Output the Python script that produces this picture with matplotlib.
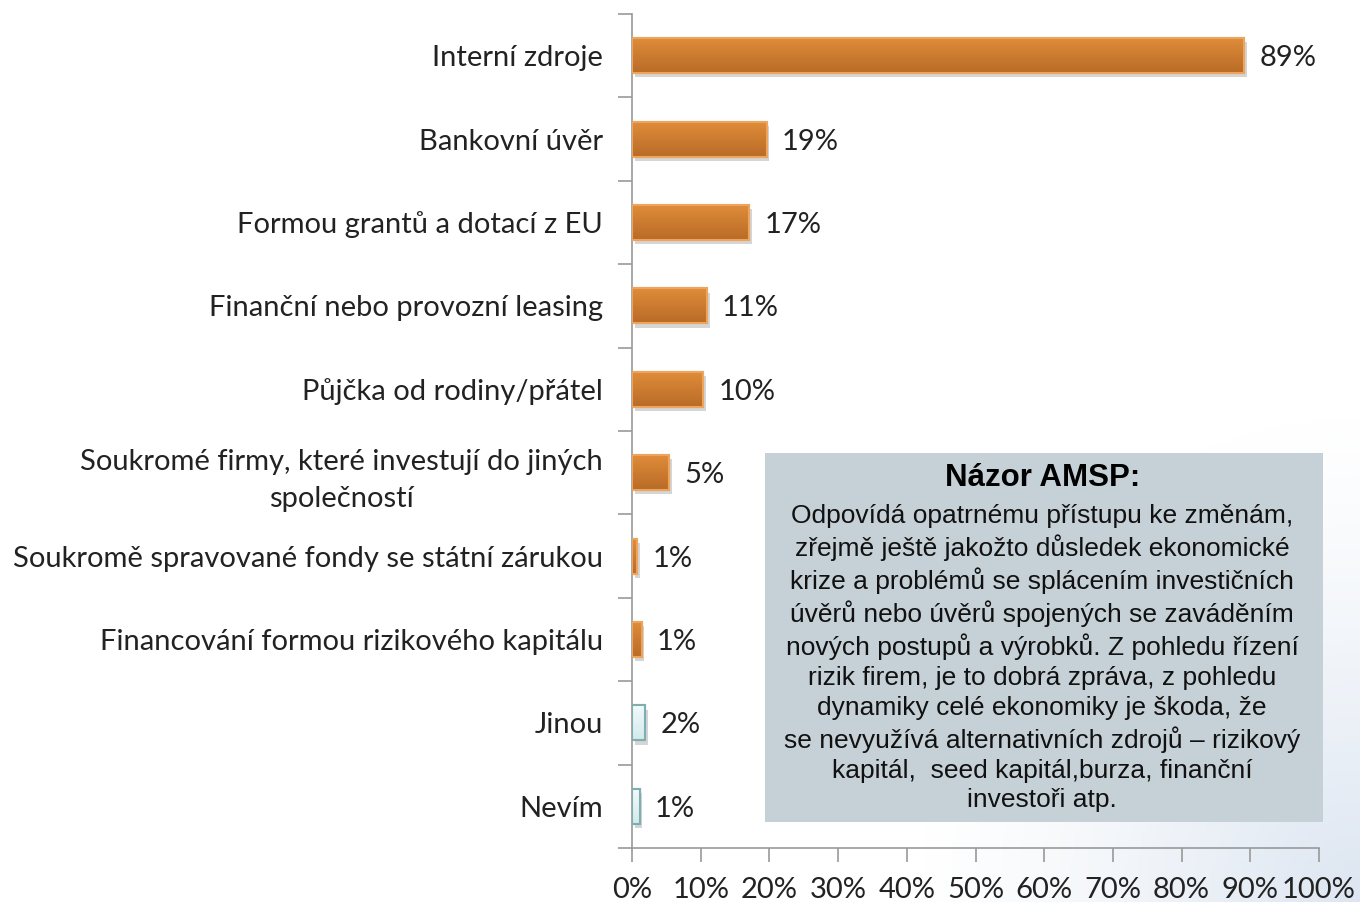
import matplotlib
matplotlib.use("Agg")
import matplotlib.pyplot as plt
import matplotlib.patheffects as pe
from matplotlib.colors import to_rgb
import numpy as np

categories = [
    "Interní zdroje",
    "Bankovní úvěr",
    "Formou grantů a dotací z EU",
    "Finanční nebo provozní leasing",
    "Půjčka od rodiny/přátel",
    "Soukromé firmy, které investují do jiných\nspolečností",
    "Soukromě spravované fondy se státní zárukou",
    "Financování formou rizikového kapitálu",
    "Jinou",
    "Nevím",
]
values = [89.1, 19.6, 17.1, 10.9, 10.4, 5.4, 0.8, 1.4, 1.9, 1.1]
value_labels = ["89%", "19%", "17%", "11%", "10%", "5%", "1%", "1%", "2%", "1%"]
highlight = [True] * 8 + [False] * 2
x_ticks = list(range(0, 101, 10))
x_tick_labels = [f"{t}%" for t in x_ticks]

box_title = "Názor AMSP:"
box_text = ("Odpovídá opatrnému přístupu ke změnám,\n"
            "zřejmě ještě jakožto důsledek ekonomické\n"
            "krize a problémů se splácením investičních\n"
            "úvěrů nebo úvěrů spojených se zaváděním\n"
            "nových postupů a výrobků. Z pohledu řízení\n"
            "rizik firem, je to dobrá zpráva, z pohledu\n"
            "dynamiky celé ekonomiky je škoda, že\n"
            "se nevyužívá alternativních zdrojů – rizikový\n"
            "kapitál,  seed kapitál,burza, finanční\n"
            "investoři atp.")

W, H = 1360, 902
fig = plt.figure(figsize=(W / 100, H / 100), dpi=100)
fig.patch.set_facecolor("white")

# faint background glow bottom-right
bg = fig.add_axes([0, 0, 1, 1], zorder=-10)
yy, xx = np.mgrid[0:1:200j, 0:1:300j]
d = np.sqrt(((xx - 1.0) / 0.33) ** 2 + ((yy - 0.0) / 0.55) ** 2)
alpha = np.clip(1 - d, 0, 1) ** 1.3 * 0.45
img = np.zeros((200, 300, 4))
img[..., 0] = 0.70
img[..., 1] = 0.78
img[..., 2] = 0.88
img[..., 3] = alpha
bg.imshow(img, extent=[0, 1, 0, 1], origin="lower", aspect="auto")
bg.axis("off")


def grad(c1, c2, n=50):
    a, b = np.array(to_rgb(c1)), np.array(to_rgb(c2))
    t = np.linspace(0, 1, n)[:, None]
    return (a * (1 - t) + b * t)[:, None, :]


font = "Lato"
fs = 21
ax = fig.add_axes([632 / W, 1 - 848 / H, (1319 - 632) / W, (848 - 14) / H])
ax.set_facecolor("none")
n = len(categories)
ypos = np.arange(n)
bh = 0.42
for i, (v, hl) in enumerate(zip(values, highlight)):
    if hl:
        top, bot, ec = "#e08d3a", "#b96b27", "#eda55e"
    else:
        top, bot, ec = "#f3fafb", "#d3eaed", "#7eaeb0"
    bars = ax.barh(i, v, height=bh, color=top, edgecolor=ec, linewidth=1.5,
                   path_effects=[pe.SimplePatchShadow(offset=(2, -3), shadow_rgbFace="#888888", alpha=0.35),
                                 pe.Normal()],
                   zorder=3)
    im = ax.imshow(grad(top, bot), extent=[0, v, i + bh / 2, i - bh / 2],
                   aspect="auto", zorder=3.5, interpolation="bilinear")
    im.set_clip_path(bars[0])
    ax.barh(i, v, height=bh, color="none", edgecolor=ec, linewidth=1.5, zorder=4)
    ax.text(v + 2.2, i + 0.03, value_labels[i], va="center", ha="left",
            fontsize=fs, family=font, color="#222222")

ax.set_ylim(n - 0.5, -0.5)
ax.set_xlim(0, 100)
ax.set_yticks(ypos)
ax.set_yticklabels(categories, fontsize=fs, family=font, color="#222222",
                   multialignment="center", linespacing=1.5)
ax.tick_params(axis="y", which="major", length=0, pad=21)
ax.set_yticks(np.arange(-0.5, n, 1), minor=True)
ax.tick_params(axis="y", which="minor", length=10, color="#999999", width=1.2)
ax.set_xticks(x_ticks)
ax.set_xticklabels(x_tick_labels, fontsize=fs, family=font, color="#222222")
ax.tick_params(axis="x", length=10, color="#999999", width=1.2, pad=11)
for s in ["top", "right"]:
    ax.spines[s].set_visible(False)
for s in ["left", "bottom"]:
    ax.spines[s].set_color("#999999")
    ax.spines[s].set_linewidth(1.2)

# text box
bx0, by0, bx1, by1 = 765, 453, 1323, 822
fig.patches.append(plt.Rectangle((bx0 / W, 1 - by1 / H), (bx1 - bx0) / W, (by1 - by0) / H,
                                 transform=fig.transFigure, facecolor="#c6d0d7",
                                 edgecolor="none", zorder=5))
cx = (bx0 + bx1) / 2 / W
fig.text(cx - 1 / W, 1 - 478 / H, box_title, ha="center", va="center", fontsize=22.5,
         fontweight="bold", family="Liberation Sans", zorder=6)
fig.text(cx - 2 / W, 1 - 658 / H, box_text, ha="center", va="center", fontsize=19,
         family="Liberation Sans", linespacing=1.30, zorder=6, color="#111111")

fig.savefig("out.png", dpi=100)
